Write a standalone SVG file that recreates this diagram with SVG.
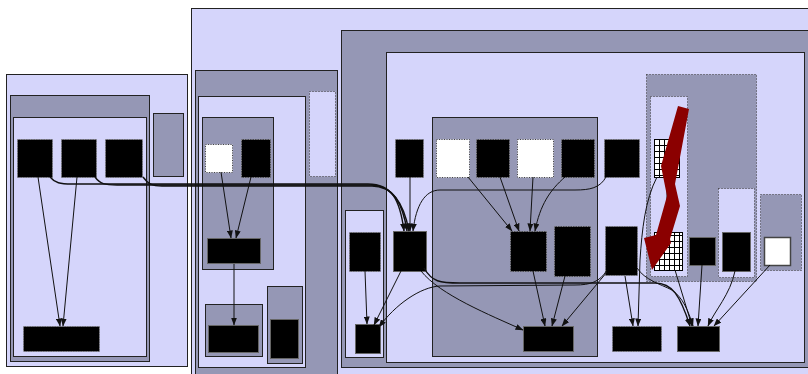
<svg xmlns="http://www.w3.org/2000/svg" width="808" height="374" viewBox="0 0 808 374">
<defs>
<style>
.lt{fill:#d5d5fb;stroke:#222;stroke-width:1}
.gr{fill:#9597b5;stroke:#222;stroke-width:1}
.ltd{fill:#d5d5fb;stroke:#333;stroke-width:1;stroke-dasharray:1,2}
.grd{fill:#9597b5;stroke:#333;stroke-width:1;stroke-dasharray:1,2}
.bk{fill:#000;stroke:#888;stroke-width:1;stroke-dasharray:1,1.5}
.bks{fill:#000;stroke:#666;stroke-width:1}
.wt{fill:#fff;stroke:#444;stroke-width:1;stroke-dasharray:1,1.5}
.wts{fill:#fff;stroke:#444;stroke-width:1.5}
.ht{fill:url(#grid);stroke:#000;stroke-width:1}
.e{fill:none;stroke:#111;stroke-width:1;marker-end:url(#ah)}
.eb{fill:none;stroke:#111;stroke-width:1.4;marker-end:url(#ah)}
</style>
<marker id="ah" markerUnits="userSpaceOnUse" markerWidth="8" markerHeight="6" refX="7.5" refY="3" orient="auto">
<path d="M0,0 L8,3 L0,6 z" fill="#111"/>
</marker>
<pattern id="grid" patternUnits="userSpaceOnUse" x="654" y="139" width="5" height="6">
<rect width="5" height="6" fill="#fff"/>
<path d="M0,0 V6 M0,0 H5" stroke="#000" stroke-width="2"/>
</pattern>
</defs>

<g id="cluster-left">
<rect class="lt" x="6.5" y="74.5" width="181" height="292"/>
<rect class="gr" x="10.5" y="95.5" width="139" height="266"/>
<rect class="lt" x="13.5" y="117.5" width="133" height="239"/>
<rect class="gr" x="153.5" y="113.5" width="30" height="63"/>
</g>
<g id="cluster-main">
<rect class="lt" x="191.5" y="8.5" width="630" height="380"/>
<rect class="gr" x="195.5" y="70.5" width="142" height="320"/>
<rect class="lt" x="198.5" y="96.5" width="107" height="271"/>
<rect class="ltd" x="309.5" y="91.5" width="26" height="85"/>
<rect class="gr" x="202.5" y="117.5" width="71" height="152"/>
<rect class="gr" x="205.5" y="304.5" width="57" height="52"/>
<rect class="gr" x="267.5" y="286.5" width="35" height="77"/>
<rect class="gr" x="341.5" y="30.5" width="480" height="337"/>
<rect class="lt" x="386.5" y="52.5" width="418" height="310"/>
<rect class="lt" x="345.5" y="210.5" width="38" height="147"/>
<rect class="gr" x="432.5" y="117.5" width="165" height="239"/>
<rect class="grd" x="646.5" y="74.5" width="110" height="207"/>
<rect class="ltd" x="650.5" y="96.5" width="37" height="180"/>
<rect class="ltd" x="718.5" y="188.5" width="36" height="89"/>
<rect class="grd" x="760.5" y="194.5" width="41" height="76"/>
</g>

<g id="n1"><rect class="bk" x="17.5" y="139.5" width="35" height="38"/></g>
<g id="n2"><rect class="bk" x="61.5" y="139.5" width="35" height="38"/></g>
<g id="n3"><rect class="bk" x="105.5" y="139.5" width="37" height="38"/></g>
<g id="n4"><rect class="bk" x="23.5" y="326.5" width="76" height="25"/></g>
<g id="n5"><rect class="wt" x="205.5" y="144.5" width="27" height="28"/></g>
<g id="n6"><rect class="bk" x="241.5" y="139.5" width="29" height="38"/></g>
<g id="n7"><rect class="bks" x="207.5" y="238.5" width="53" height="25"/></g>
<g id="n8"><rect class="bks" x="208.5" y="325.5" width="50" height="27"/></g>
<g id="n9"><rect class="bks" x="270.5" y="319.5" width="28" height="39"/></g>
<g id="n10"><rect class="bk" x="349.5" y="232.5" width="31" height="39"/></g>
<g id="n11"><rect class="bks" x="355.5" y="324.5" width="25" height="29"/></g>
<g id="n12"><rect class="bk" x="395.5" y="139.5" width="28" height="38"/></g>
<g id="n13"><rect class="bks" x="393.5" y="231.5" width="33" height="40"/></g>
<g id="n14"><rect class="wt" x="436.5" y="139.5" width="33" height="38"/></g>
<g id="n15"><rect class="bk" x="476.5" y="139.5" width="33" height="38"/></g>
<g id="n16"><rect class="wt" x="517.5" y="139.5" width="36" height="38"/></g>
<g id="n17"><rect class="bk" x="561.5" y="139.5" width="33" height="38"/></g>
<g id="n18"><rect class="bk" x="510.5" y="231.5" width="36" height="40"/></g>
<g id="n19"><rect class="bk" x="554.5" y="226.5" width="36" height="50"/></g>
<g id="n20"><rect class="bks" x="523.5" y="326.5" width="50" height="25"/></g>
<g id="n21"><rect class="bk" x="604.5" y="139.5" width="35" height="38"/></g>
<g id="n22"><rect class="bk" x="605.5" y="226.5" width="32" height="49"/></g>
<g id="n23"><rect class="ht" x="654.5" y="139.5" width="25" height="38"/></g>
<g id="n24"><rect class="ht" x="654.5" y="232.5" width="28" height="38"/></g>
<g id="n25"><rect class="bks" x="689.5" y="237.5" width="26" height="28"/></g>
<g id="n26"><rect class="bks" x="722.5" y="232.5" width="28" height="39"/></g>
<g id="n27"><rect class="wts" x="764.5" y="237.5" width="26" height="28"/></g>
<g id="n28"><rect class="bk" x="612.5" y="326.5" width="49" height="25"/></g>
<g id="n29"><rect class="bks" x="677.5" y="326.5" width="42" height="25"/></g>

<g id="connectors">
<path class="e" d="M38,177 L60,326"/>
<path class="e" d="M77,177 L63,326"/>
<path class="eb" d="M50,177 C55,183 60,184 72,184 L368,184 C392,184 400,200 404,231"/>
<path class="eb" d="M95,177 C100,184 105,185 117,185 L370,185 C394,185 403,205 407,231"/>
<path class="eb" d="M143,177 C148,184 152,186 162,186 L372,186 C396,186 405,210 409,231"/>
<path class="e" d="M221,172 L231,238"/>
<path class="e" d="M251,177 L236,238"/>
<path class="e" d="M234,264 L234,325"/>
<path class="e" d="M365,271 L367,324"/>
<path class="e" d="M410,177 L410,231"/>
<path class="e" d="M606,177 C600,188 590,190 575,190 L440,190 C425,190 416,205 413,231"/>
<path class="e" d="M401,271 L374,325"/>
<path class="e" d="M607,270 C600,282 590,285 575,285 L440,286 C420,287 395,305 379,327"/>
<path class="e" d="M421,271 C440,295 490,315 523,330"/>
<path class="eb" d="M424,268 C432,282 440,283 460,283 L655,283 C672,283 680,295 690,326"/>
<path class="e" d="M637,268 C645,280 660,284 672,290 C683,298 688,310 693,326"/>
<path class="e" d="M625,276 L633,326"/>
<path class="e" d="M657,177 C645,200 642,230 640,260 L638,326"/>
<path class="e" d="M667,177 L667,232"/>
<path class="e" d="M675,270 L692,326"/>
<path class="e" d="M702,265 L698,326"/>
<path class="e" d="M735,271 C730,295 715,310 708,326"/>
<path class="e" d="M770,265 L714,326"/>
<path class="e" d="M468,177 L512,231"/>
<path class="e" d="M500,177 L519,231"/>
<path class="e" d="M533,177 L530,231"/>
<path class="e" d="M565,177 C550,190 540,205 535,231"/>
<path class="e" d="M533,271 L545,326"/>
<path class="e" d="M565,276 L552,326"/>
<path class="e" d="M607,272 L562,326"/>
</g>

<g id="bolt">
<polygon points="678,106 689,109 675,184 680,206 670,239 671,243 652,270 644,238 656,235 667,196 661,166" fill="#8b0000"/>
</g>
</svg>
